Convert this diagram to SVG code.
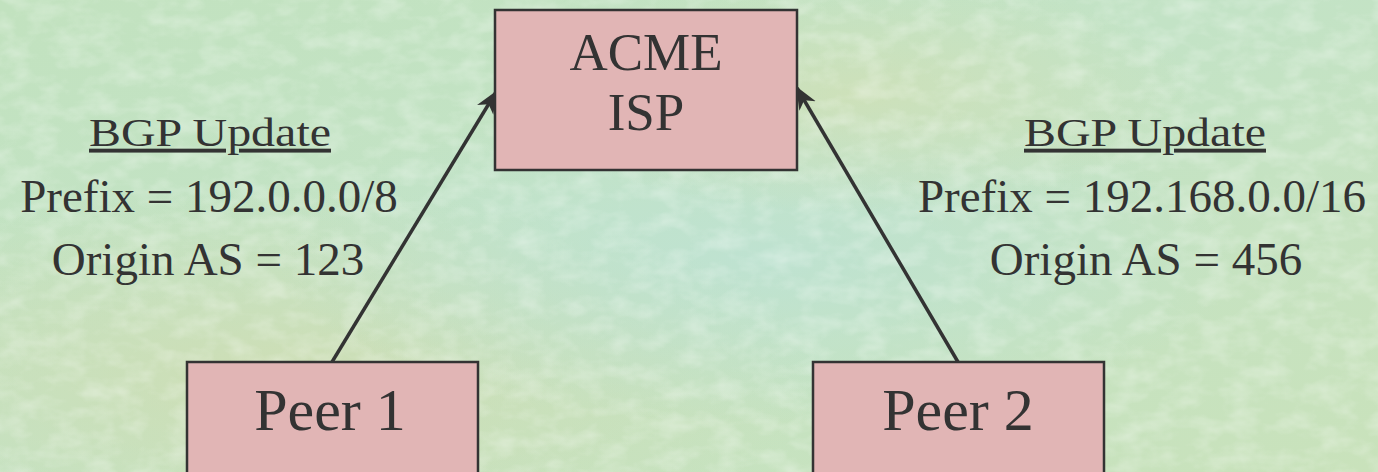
<svg xmlns="http://www.w3.org/2000/svg" width="1378" height="472" viewBox="0 0 1378 472">
  <style>
    .box { fill: #e1b5b5; stroke: #333333; stroke-width: 2.5; }
    .label { font-family: "Liberation Serif", "Times New Roman", serif; fill: #333333; text-anchor: middle; }
    .node-title { font-size: 53px; }
    .peer-title { font-size: 60px; }
    .note { font-size: 47px; }
    .heading { font-size: 39px; text-decoration: underline; }
    .edge { stroke: #333333; stroke-width: 3.5; fill: none; marker-end: url(#head); }
  </style>
  <defs>
    <marker id="head" viewBox="0 0 12 10" refX="11" refY="5" markerWidth="6.5" markerHeight="5.5" orient="auto" markerUnits="strokeWidth">
      <path d="M0,0 L12,5 L0,10 L3.5,5 Z" fill="#333333"/>
    </marker>
    <linearGradient id="bgBase" x1="0" y1="0" x2="1" y2="1">
      <stop offset="0" stop-color="#c2e2bf"/>
      <stop offset="0.45" stop-color="#c3e3c6"/>
      <stop offset="1" stop-color="#c9e2bb"/>
    </linearGradient>
    <radialGradient id="warm" cx="0.2" cy="0.8" r="0.4">
      <stop offset="0" stop-color="#d2dcae" stop-opacity="0.7"/>
      <stop offset="1" stop-color="#d2dcae" stop-opacity="0"/>
    </radialGradient>
    <radialGradient id="cool" cx="0.55" cy="0.55" r="0.35">
      <stop offset="0" stop-color="#bde2d4" stop-opacity="0.8"/>
      <stop offset="1" stop-color="#bde2d4" stop-opacity="0"/>
    </radialGradient>
    <radialGradient id="warm2" cx="0.62" cy="0.2" r="0.25">
      <stop offset="0" stop-color="#d4dfb2" stop-opacity="0.6"/>
      <stop offset="1" stop-color="#d4dfb2" stop-opacity="0"/>
    </radialGradient>
    <filter id="grain" x="0" y="0" width="100%" height="100%">
      <feTurbulence type="fractalNoise" baseFrequency="0.035 0.06" numOctaves="3" seed="7" result="n"/>
      <feColorMatrix in="n" type="matrix" values="0 0 0 0 1  0 0 0 0 1  0 0 0 0 1  0 0 0 1.4 -0.55"/>
    </filter>
  </defs>

  <!-- marbled green backdrop -->
  <rect width="1378" height="472" fill="url(#bgBase)"/>
  <rect width="1378" height="472" fill="url(#warm)"/>
  <rect width="1378" height="472" fill="url(#cool)"/>
  <rect width="1378" height="472" fill="url(#warm2)"/>
  <rect width="1378" height="472" filter="url(#grain)" opacity="0.42"/>

  <!-- connectors -->
  <g id="connectors">
    <line class="edge" x1="332" y1="362" x2="496" y2="92"/>
    <line class="edge" x1="958" y1="362" x2="797" y2="88"/>
  </g>

  <g id="acme-isp">
    <rect class="box" x="495" y="10" width="302" height="160"/>
    <text class="label node-title" x="646" y="70">ACME</text>
    <text class="label node-title" x="646" y="130">ISP</text>
  </g>

  <g id="peer-1">
    <rect class="box" x="187" y="362" width="291" height="120"/>
    <text class="label peer-title" x="330" y="430">Peer 1</text>
  </g>

  <g id="peer-2">
    <rect class="box" x="813" y="362" width="291" height="120"/>
    <text class="label peer-title" x="958" y="430">Peer 2</text>
  </g>

  <g id="update-1">
    <text class="label heading" transform="translate(210,146) scale(1.23,1)">BGP Update</text>
    <text class="label note" x="209" y="212">Prefix = 192.0.0.0/8</text>
    <text class="label note" x="208" y="275">Origin AS = 123</text>
  </g>

  <g id="update-2">
    <text class="label heading" transform="translate(1145,146) scale(1.23,1)">BGP Update</text>
    <text class="label note" x="1142" y="212">Prefix = 192.168.0.0/16</text>
    <text class="label note" x="1146" y="275">Origin AS = 456</text>
  </g>
</svg>
